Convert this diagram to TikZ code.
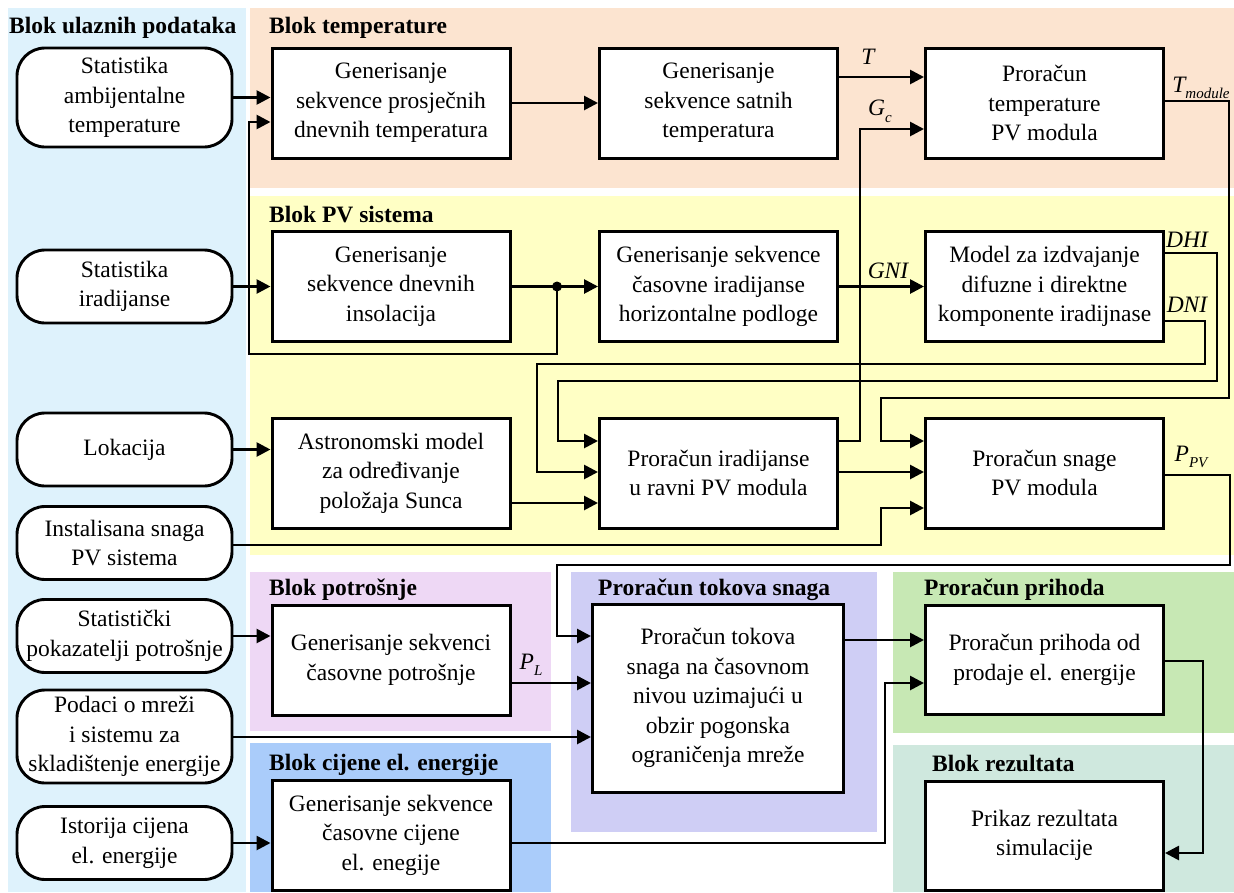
\documentclass[tikz,border=0pt]{standalone}
\usepackage{fontspec}
\setmainfont{Liberation Serif}
\usetikzlibrary{arrows.meta}
\definecolor{cIn}{RGB}{222,242,252}
\definecolor{cTemp}{RGB}{252,228,208}
\definecolor{cPV}{RGB}{255,255,197}
\definecolor{cPot}{RGB}{238,216,245}
\definecolor{cCij}{RGB}{170,204,250}
\definecolor{cTok}{RGB}{207,206,245}
\definecolor{cPri}{RGB}{199,232,180}
\definecolor{cRez}{RGB}{207,232,222}
\newcommand{\mysub}[1]{\raisebox{-0.28em}{\fontsize{15}{15}\selectfont #1}}
\begin{document}
\begin{tikzpicture}[x=1pt,y=-1pt,font=\fontsize{23.5}{29.5}\selectfont]
\tikzset{
 inbox/.style={draw, line width=2.9pt, rounded corners=28pt, fill=white, minimum width=215pt, align=center, inner sep=0pt},
 blk/.style={draw, line width=3pt, fill=white, minimum width=238pt, minimum height=110pt, align=center, inner sep=0pt},
 arr/.style={line width=2.7pt, -{Triangle[length=14pt,width=14pt]}},
 ttl/.style={font=\fontsize{23.5}{29}\selectfont\bfseries, anchor=base west, inner sep=0pt},
 lbl/.style={font=\fontsize{23.5}{29}\selectfont\itshape, inner sep=0pt},
}
\useasboundingbox (0,0) rectangle (1234,892);
% backgrounds
\fill[cIn] (8,8) rectangle (246,892);
\fill[cTemp] (250,8) rectangle (1234,188);
\fill[cPV] (250,196) rectangle (1234,555);
\fill[cPot] (250,572) rectangle (551,731);
\fill[cCij] (250,743) rectangle (551,892);
\fill[cTok] (571,572) rectangle (877,832);
\fill[cPri] (893,572) rectangle (1234,733);
\fill[cRez] (893,745) rectangle (1234,892);
% titles
\node[ttl] (t0) at (9,33) {Blok ulaznih podataka};
\node[ttl] (t1) at (269,33) {Blok temperature};
\node[ttl] (t2) at (269,222) {Blok PV sistema};
\node[ttl] (t3) at (269,595) {Blok potrošnje};
\node[ttl] (t4) at (269,770) {Blok cijene el. energije};
\node[ttl] (t5) at (598,595) {Proračun tokova snaga};
\node[ttl] (t6) at (924,595) {Proračun prihoda};
\node[ttl] (t7) at (932,771) {Blok rezultata};
% input boxes
\node[inbox, minimum height=99pt] (in1) at (124.5,97.5) {Statistika\\ambijentalne\\temperature};
\node[inbox, minimum height=73pt] (in2) at (124.5,286.5) {Statistika\\iradijanse};
\node[inbox, minimum height=73pt] (in3) at (124.5,449.5) {Lokacija};
\node[inbox, minimum height=73pt] (in4) at (124.5,543) {Instalisana snaga\\PV sistema};
\node[inbox, minimum height=73pt] (in5) at (124.5,636) {Statistički\\pokazatelji potrošnje};
\node[inbox, minimum height=93pt] (in6) at (124.5,736.5) {Podaci o mreži\\i sistemu za\\skladištenje energije};
\node[inbox, minimum height=73pt] (in7) at (124.5,843) {Istorija cijena\\el. energije};
% blocks
\node[blk] (b11) at (391,103) {Generisanje\\sekvence prosječnih\\dnevnih temperatura};
\node[blk] (b12) at (718.5,103) {Generisanje\\sekvence satnih\\temperatura};
\node[blk] (b13) at (1044.5,103) {Proračun\\temperature\\PV modula};
\node[blk] (b21) at (391,286.5) {Generisanje\\sekvence dnevnih\\insolacija};
\node[blk] (b22) at (718.5,286.5) {Generisanje sekvence\\časovne iradijanse\\horizontalne podloge};
\node[blk] (b23) at (1044.5,286.5) {Model za izdvajanje\\difuzne i direktne\\komponente iradijnase};
\node[blk] (b31) at (391,473) {Astronomski model\\za određivanje\\položaja Sunca};
\node[blk] (b32) at (718.5,473) {Proračun iradijanse\\u ravni PV modula};
\node[blk] (b33) at (1044.5,473) {Proračun snage\\PV modula};
\node[blk] (b41) at (391,660) {Generisanje sekvenci\\časovne potrošnje};
\node[blk] (b51) at (391,835) {Generisanje sekvence\\časovne cijene\\el. enegije};
\node[blk, minimum width=251pt, minimum height=188pt] (tok) at (718,698) {Proračun tokova\\snaga na časovnom\\nivou uzimajući u\\obzir pogonska\\ograničenja mreže};
\node[blk, minimum height=109pt] (prih) at (1044.5,660) {Proračun prihoda od\\prodaje el. energije};
\node[blk, minimum height=109pt] (rez) at (1044.5,835.5) {Prikaz rezultata\\simulacije};
% labels
\node[lbl] (lT) at (868,57) {T};
\node[lbl] (lG) at (880,111) {G\mysub{c}};
\node[lbl] (lTm) at (1201,88) {T\mysub{module}};
\node[lbl] (lGNI) at (888,271) {GNI};
\node[lbl] (lDHI) at (1187,240) {DHI};
\node[lbl] (lDNI) at (1187,305) {DNI};
\node[lbl] (lPPV) at (1191,457) {P\mysub{PV}};
\node[lbl] (lPL) at (531,665) {P\mysub{L}};
% junction
\coordinate (j1) at (557,286.5);
% connectors
\draw[arr] (in1.east) -- (in1.east -| b11.west);
\draw[arr] (j1) -- (557,354) -- (249,354) -- (249,122) -- (b11.west |- 0,122);
\draw[arr] (b11.east) -- (b12.west);
\draw[arr] (b12.east |- 0,77) -- (b13.west |- 0,77);
\draw[arr] (b32.east |- 0,441) -- (860,441) -- (860,129) -- (b13.west |- 0,129);
\draw[arr] (b13.east |- 0,101) -- (1229,101) -- (1229,398) -- (881,398) -- (881,441) -- (b33.west |- 0,441);
\draw[arr] (in2.east) -- (in2.east -| b21.west);
\draw[arr] (b21.east) -- (b22.west);
\fill (j1) circle (5pt);
\draw[arr] (b22.east) -- (b23.west);
\draw[arr] (b23.east |- 0,253) -- (1217,253) -- (1217,381) -- (558,381) -- (558,441) -- (b32.west |- 0,441);
\draw[arr] (b23.east |- 0,321) -- (1205,321) -- (1205,364) -- (537,364) -- (537,472) -- (b32.west |- 0,472);
\draw[arr] (in3.east) -- (in3.east -| b31.west);
\draw[arr] (b31.east |- 0,503) -- (b32.west |- 0,503);
\draw[arr] (b32.east |- 0,472) -- (b33.west |- 0,472);
\draw[arr] (in4.east |- 0,545) -- (881,545) -- (881,508) -- (b33.west |- 0,508);
\draw[arr] (b33.east |- 0,475) -- (1230,475) -- (1230,565) -- (557,565) -- (557,636) -- (tok.west |- 0,636);
\draw[arr] (in5.east) -- (in5.east -| b41.west);
\draw[arr] (b41.east |- 0,683) -- (tok.west |- 0,683);
\draw[arr] (in6.east |- 0,737) -- (tok.west |- 0,737);
\draw[arr] (in7.east) -- (in7.east -| b51.west);
\draw[arr] (b51.east |- 0,843) -- (885,843) -- (885,683) -- (prih.west |- 0,683);
\draw[arr] (tok.east |- 0,640) -- (prih.west |- 0,640);
\draw[arr] (prih.east |- 0,661) -- (1203,661) -- (1203,853) -- (rez.east |- 0,853);
\end{tikzpicture}
\end{document}
